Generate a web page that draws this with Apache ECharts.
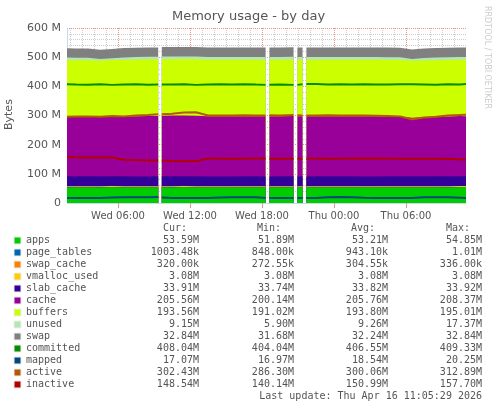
<!DOCTYPE html>
<html><head><meta charset="utf-8">
<script src="https://cdn.jsdelivr.net/npm/echarts@6/dist/echarts.min.js"></script>
<style>html,body{margin:0;padding:0;background:#fff}#c{width:497px;height:408px}</style>
</head><body><div id="c"></div>
<script>
const N = null;
// hours since Wed 00:00; null rows are the gaps in the recording
const hours = [1.75,2.5,3.5,4.5,5.5,6.5,7.5,8.5,9.35,9.5,9.65,10.5,11.5,12.5,13.5,14.5,15.5,16.5,17.5,18.3,18.46,18.62,19.5,20.63,20.79,20.95,21.38,21.54,21.7,22.5,23.5,24.5,25.5,26.5,27.5,28.5,29.5,30.5,31.5,32.5,33.5,34.5,35.0];
const apps =        [53.5,53.4,53.3,53.5,53.6,53.2,53.1,53.0,53.2,N,53.4,53.5,53.9,53.2,53.1,53.0,53.1,53.2,53.3,53.0,N,53.1,53.2,53.2,N,53.1,53.2,N,53.1,53.2,53.3,53.4,53.2,53.0,53.1,53.3,53.4,53.2,53.3,53.4,53.5,53.6,53.6];
const pageTables =  [0.95,0.95,0.94,0.94,0.95,0.93,0.94,0.94,0.95,N,0.94,0.94,0.96,0.95,0.94,0.94,0.94,0.94,0.94,0.93,N,0.93,0.94,0.94,N,0.93,0.94,N,0.94,0.94,0.94,0.95,0.94,0.94,0.94,0.94,0.95,0.94,0.94,0.95,0.96,0.98,0.98];
const swapCache =   [0.3,0.3,0.3,0.3,0.3,0.3,0.3,0.3,0.3,N,0.3,0.3,0.3,0.3,0.3,0.3,0.3,0.3,0.3,0.3,N,0.3,0.3,0.3,N,0.3,0.3,N,0.3,0.3,0.3,0.3,0.3,0.3,0.3,0.3,0.3,0.3,0.3,0.3,0.3,0.3,0.3];
const vmalloc =     [3.08,3.08,3.08,3.08,3.08,3.08,3.08,3.08,3.08,N,3.08,3.08,3.08,3.08,3.08,3.08,3.08,3.08,3.08,3.08,N,3.08,3.08,3.08,N,3.08,3.08,N,3.08,3.08,3.08,3.08,3.08,3.08,3.08,3.08,3.08,3.08,3.08,3.08,3.08,3.08,3.08];
const slab =        [33.8,33.8,33.8,33.8,33.8,33.8,33.8,33.8,33.8,N,33.8,33.8,33.8,33.8,33.8,33.8,33.8,33.8,33.8,33.8,N,33.8,33.8,33.8,N,33.8,33.8,N,33.8,33.8,33.8,33.8,33.8,33.8,33.8,33.8,33.8,33.8,33.8,33.9,33.9,33.9,33.9];
const cache =       [204,204,204,203,205,205,206,207,207,N,208,208,208,208,206,206,206,206,206,206,N,206,206,207,N,206,206,N,206,206,206,206,206,206,206,205,205,201,203,204,205,206,205.6];
const buffers =     [193.5,193.5,193.6,193.4,193.5,193.8,193.9,194.0,194.2,N,193.6,193.5,193.4,193.6,193.8,193.8,193.9,193.9,193.9,193.8,N,193.8,193.9,193.8,N,193.9,193.9,N,193.9,193.9,193.9,193.9,193.9,193.8,193.8,193.8,193.7,195.0,194.3,193.8,193.7,193.6,193.6];
const unused =      [9.5,9.3,9.2,6.0,6.2,9.0,9.1,9.0,8.8,N,9.3,9.4,9.2,9.4,9.6,9.7,9.6,9.6,9.5,9.6,N,9.6,9.5,9.4,N,9.5,9.5,N,9.5,9.5,9.4,9.5,9.6,9.8,9.7,9.8,9.7,6.2,8.4,9.0,9.0,9.1,9.15];
const swap =        [31.7,31.7,31.8,31.8,31.9,31.9,32.0,32.0,32.1,N,32.1,32.1,32.1,32.2,32.2,32.2,32.3,32.3,32.3,32.3,N,32.3,32.4,32.4,N,32.4,32.4,N,32.4,32.5,32.5,32.5,32.6,32.6,32.6,32.7,32.7,32.7,32.8,32.8,32.8,32.8,32.84];
const committed =   [407.5,406.5,405.5,407,405,406,407,405.5,406,N,406.5,406,407,405,406.5,407,406,407.5,406,405,N,405.5,406,405,N,405,407,N,408,408,406.5,407,406,407.5,406.5,406,407,407.5,406.5,405.5,407,406,408];
const mapped =      [17.0,17.0,17.0,17.1,18.5,19.8,20.0,20.1,20.2,N,18.5,17.2,17.1,17.1,17.1,18.8,20.0,20.1,20.1,17.2,N,17.1,17.1,17.1,N,17.1,17.1,N,17.1,17.3,19.8,20.2,20.0,18.0,17.2,17.1,17.2,17.1,19.5,20.1,20.0,18.2,17.07];
const active =      [296,297,297,296,298,297,300,302,304,N,304,306,310,311,300,300,300,301,300,300,N,301,300,302,N,301,300,N,300,300,301,300,300,300,299,298,297,287,293,296,300,302,302.4];
const inactive =    [157.5,157,156,156,156,148,147,146,146,N,146,144,143,143,153,152,152,152,153,153,N,152,152,152,N,152,152,N,152,153,152,152,153,153,153,153,152,152,152,152,151,150,148.5];

const legendNames = ['apps','page_tables','swap_cache','vmalloc_used','slab_cache','cache','buffers','unused','swap','committed','mapped','active','inactive'];
const legendColors = ['#00cc00','#0066b3','#ff8000','#ffcc00','#330099','#990099','#ccff00','#b3e6b3','#808080','#008f00','#00487d','#b35a00','#b30000'];
const curVals = ['53.59M','1003.48k','320.00k','3.08M','33.91M','205.56M','193.56M','9.15M','32.84M','408.04M','17.07M','302.43M','148.54M'];
const minVals = ['51.89M','848.00k','272.55k','3.08M','33.74M','200.14M','191.02M','5.90M','31.68M','404.04M','16.97M','286.30M','140.14M'];
const avgVals = ['53.21M','943.10k','304.55k','3.08M','33.82M','205.76M','193.80M','9.26M','32.24M','406.55M','18.54M','300.06M','150.99M'];
const maxVals = ['54.85M','1.01M','336.00k','3.08M','33.92M','208.37M','195.01M','17.37M','32.84M','409.33M','20.25M','312.89M','157.70M'];
const tickHours = [6, 12, 18, 24, 30];
const tickLabels = ['Wed 06:00','Wed 12:00','Wed 18:00','Thu 00:00','Thu 06:00'];
const minorGridHours = [2,3,4,5,7,8,9,10,11,13,14,15,16,17,19,20,21,22,23,25,26,27,28,29,31,32,33,34];

const areaData = [apps, pageTables, swapCache, vmalloc, slab, cache, buffers, unused, swap];
const lineData = [committed, mapped, active, inactive];

// running totals so each band is drawn as its top edge filled down to zero
const tops = [];
areaData.forEach((arr, i) => {
  tops.push(arr.map((v, k) => v === null ? null : (i ? tops[i - 1][k] : 0) + v));
});
const pair = arr => hours.map((h, i) => [h, arr[i]]);

const series = [];
for (let i = areaData.length - 1; i >= 0; i--) {
  series.push({
    name: legendNames[i], type: 'line', data: pair(tops[i]),
    symbol: 'none', connectNulls: false, lineStyle: {width: 0},
    areaStyle: {color: legendColors[i], opacity: 1, origin: 'start'}, itemStyle: {color: legendColors[i]}, z: 2
  });
}
lineData.forEach((arr, j) => {
  const i = 9 + j;
  series.push({
    name: legendNames[i], type: 'line', data: pair(arr), symbol: 'none',
    connectNulls: false, lineStyle: {width: 2, color: legendColors[i]}, z: 3
  });
});
// vertical grid lines drawn through the x scale
series.push({
  type: 'line', data: [], silent: true,
  markLine: {
    symbol: 'none', silent: true, label: {show: false}, z: 1,
    data: minorGridHours.map(h => ({xAxis: h, lineStyle: {color: '#cccccc', type: 'dotted', width: 1}}))
      .concat(tickHours.map(h => ({xAxis: h, lineStyle: {color: '#e89090', type: 'dotted', width: 1}})))
  }
});

const mono = 'DejaVu Sans Mono';
const graphic = [
  {type: 'text', left: 'center', top: 10, style: {text: 'Memory usage - by day', font: '13px "DejaVu Sans"', fill: '#555'}},
  {type: 'text', x: 4, y: 130, rotation: Math.PI / 2, style: {text: 'Bytes', font: '11px "DejaVu Sans"', fill: '#555'}},
  {type: 'text', x: 491, y: 6, rotation: -Math.PI / 2, style: {text: 'RRDTOOL / TOBI OETIKER', font: '8px "DejaVu Sans"', fill: '#cccccc'}},
  {type: 'text', x: 187, y: 223, style: {text: 'Cur:', font: '10px ' + mono, fill: '#555', align: 'right'}},
  {type: 'text', x: 281, y: 223, style: {text: 'Min:', font: '10px ' + mono, fill: '#555', align: 'right'}},
  {type: 'text', x: 375, y: 223, style: {text: 'Avg:', font: '10px ' + mono, fill: '#555', align: 'right'}},
  {type: 'text', x: 470, y: 223, style: {text: 'Max:', font: '10px ' + mono, fill: '#555', align: 'right'}},
  {type: 'text', x: 482, y: 391, style: {text: 'Last update: Thu Apr 16 11:05:29 2026', font: '10px ' + mono, fill: '#555', align: 'right'}}
];
legendNames.forEach((name, i) => {
  const y = 235 + i * 12;
  graphic.push({type: 'rect', shape: {x: 14, y: y + 2, width: 7, height: 7}, style: {fill: legendColors[i], stroke: '#eee'}});
  graphic.push({type: 'text', x: 26, y: y, style: {text: name, font: '10px ' + mono, fill: '#555'}});
  [[curVals, 199], [minVals, 294], [avgVals, 388], [maxVals, 482]].forEach(([vals, x]) => {
    graphic.push({type: 'text', x: x, y: y, style: {text: vals[i], font: '10px ' + mono, fill: '#555', align: 'right'}});
  });
});

const chart = echarts.init(document.getElementById('c'));
chart.setOption({
  animation: false,
  backgroundColor: '#ffffff',
  grid: {left: 67, right: 31, top: 28, bottom: 205, containLabel: false},
  xAxis: {
    type: 'value', min: 1.75, max: 35,
    axisLine: {show: true, lineStyle: {color: '#ccd6f0'}},
    axisTick: {show: true, customValues: tickHours, lineStyle: {color: '#e89090'}},
    axisLabel: {customValues: tickHours, formatter: v => tickLabels[tickHours.indexOf(v)], color: '#555', fontSize: 10, fontFamily: 'DejaVu Sans'},
    splitLine: {show: false}
  },
  yAxis: {
    type: 'value', min: 0, max: 600, interval: 100,
    axisLine: {show: true, lineStyle: {color: '#ccd6f0'}},
    axisTick: {show: false},
    axisLabel: {formatter: v => v === 0 ? '0' : v + ' M', color: '#555', fontSize: 11, fontFamily: 'DejaVu Sans', margin: 6},
    splitLine: {show: true, lineStyle: {color: '#e89090', type: 'dotted'}},
    minorTick: {show: false, splitNumber: 5},
    minorSplitLine: {show: true, lineStyle: {color: '#cccccc', type: 'dotted'}}
  },
  series: series,
  graphic: graphic
});
</script></body></html>
